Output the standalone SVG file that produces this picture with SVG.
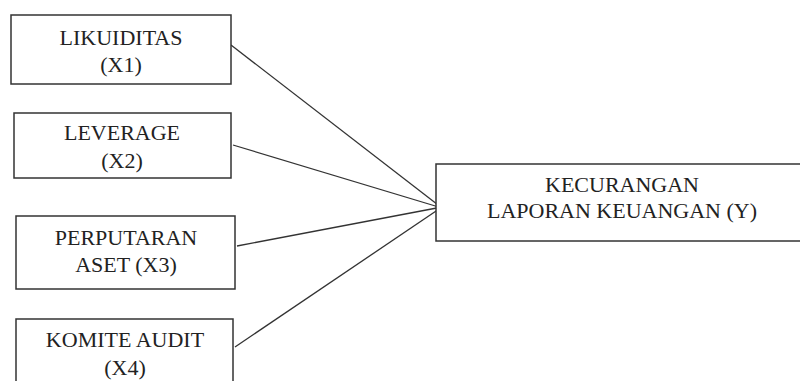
<svg xmlns="http://www.w3.org/2000/svg" width="800" height="381" viewBox="0 0 800 381">
<style>
.box{fill:#fff;stroke:#333;stroke-width:1.5}
.c{stroke:#333;stroke-width:1.3;fill:none}
</style>
<rect width="800" height="381" fill="#fff"/>
<g id="connectors">
<line class="c" x1="231" y1="45" x2="442" y2="208"/>
<line class="c" x1="233" y1="145" x2="442" y2="208"/>
<line class="c" x1="237" y1="246" x2="442" y2="207"/>
<line class="c" x1="235" y1="347" x2="442" y2="207"/>
</g>
<g id="x1">
<rect class="box" x="11" y="15" width="220" height="69"/>
<text x="121" y="45" font-family="Liberation Serif" font-size="22" fill="#222" text-anchor="middle">LIKUIDITAS</text>
<text x="121" y="72" font-family="Liberation Serif" font-size="22" fill="#222" text-anchor="middle">(X1)</text>
</g>
<g id="x2">
<rect class="box" x="14" y="113" width="217" height="65"/>
<text x="122" y="140" font-family="Liberation Serif" font-size="22" fill="#222" text-anchor="middle">LEVERAGE</text>
<text x="122" y="168" font-family="Liberation Serif" font-size="22" fill="#222" text-anchor="middle">(X2)</text>
</g>
<g id="x3">
<rect class="box" x="16" y="216" width="219" height="73"/>
<text x="126" y="245" font-family="Liberation Serif" font-size="22" fill="#222" text-anchor="middle">PERPUTARAN</text>
<text x="126" y="272" font-family="Liberation Serif" font-size="22" fill="#222" text-anchor="middle">ASET (X3)</text>
</g>
<g id="x4">
<rect class="box" x="16" y="319" width="217" height="80"/>
<text x="125" y="347" font-family="Liberation Serif" font-size="22" fill="#222" text-anchor="middle">KOMITE AUDIT</text>
<text x="125" y="375" font-family="Liberation Serif" font-size="22" fill="#222" text-anchor="middle">(X4)</text>
</g>
<g id="y">
<rect class="box" x="436" y="164" width="380" height="77"/>
<text x="622" y="192" font-family="Liberation Serif" font-size="22" fill="#222" text-anchor="middle">KECURANGAN</text>
<text x="622" y="218" font-family="Liberation Serif" font-size="22" fill="#222" text-anchor="middle">LAPORAN KEUANGAN (Y)</text>
</g>
</svg>
